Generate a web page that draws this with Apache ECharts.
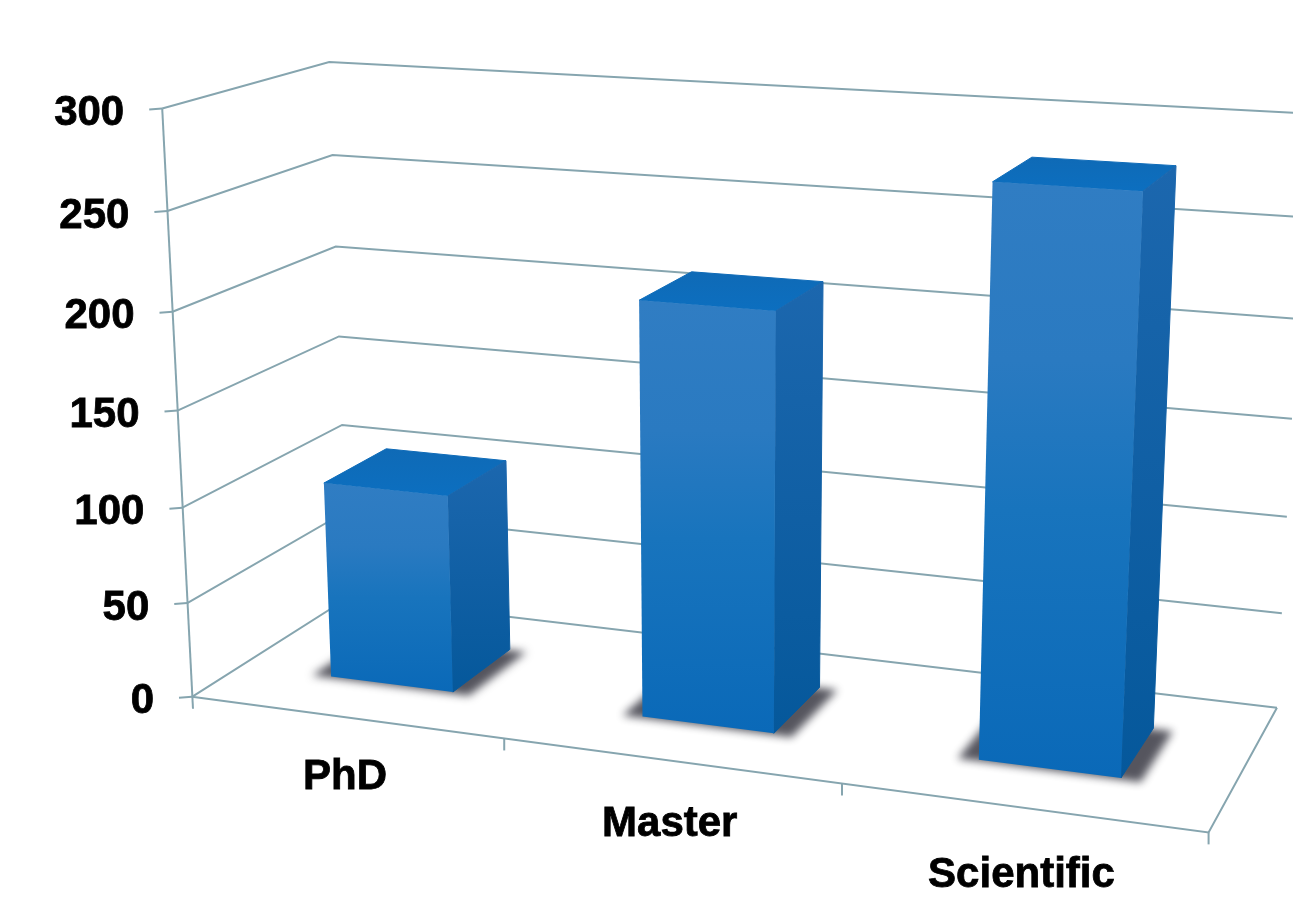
<!DOCTYPE html>
<html><head><meta charset="utf-8">
<style>html,body{margin:0;background:#fff}#c{width:1293px;height:907px}</style>
<script src="https://cdn.jsdelivr.net/npm/echarts@6/dist/echarts.min.js"></script></head>
<body><div id="c"></div>
<script>
const categories = ['PhD', 'Master', 'Scientific'];
const values = [104, 212, 280];
const yTicks = [0, 50, 100, 150, 200, 250, 300];

// Camera calibration: [along, height, depth] in unit room coordinates -> page position
const cameraFit = [
  [0,0,0,192,697],[0,1/6,0,188,602],[0,1/3,0,183,507],[0,.5,0,178,410],[0,2/3,0,172,311],[0,5/6,0,167,211],[0,1,0,162,109],
  [0,1/3,1,342,425],[0,.5,1,338,337],[0,2/3,1,336,247],[0,5/6,1,332,155],[0,1,1,330,62],
  [1,0,1,1277,707],[1,1/6,1,1282,613],[1,1/3,1,1287,516],[1,.5,1,1292,419],[1,1,1,1308,114],
  [1,0,0,1208,832],[1/3,0,0,504,740],[2/3,0,0,842,785]
];

// Least-squares linear solve for the 11 projective camera terms
function solve(A, b) {
  const n = b.length;
  for (let i = 0; i < n; i++) {
    let m = i;
    for (let r = i + 1; r < n; r++) if (Math.abs(A[r][i]) > Math.abs(A[m][i])) m = r;
    [A[i], A[m]] = [A[m], A[i]];
    [b[i], b[m]] = [b[m], b[i]];
    for (let r = i + 1; r < n; r++) {
      const f = A[r][i] / A[i][i];
      for (let c = i; c < n; c++) A[r][c] -= f * A[i][c];
      b[r] -= f * b[i];
    }
  }
  const x = Array(n).fill(0);
  for (let i = n - 1; i >= 0; i--) {
    let s = b[i];
    for (let c = i + 1; c < n; c++) s -= A[i][c] * x[c];
    x[i] = s / A[i][i];
  }
  return x;
}
function fitCamera(pts) {
  const N = Array.from({length: 11}, () => Array(11).fill(0)), R = Array(11).fill(0);
  const add = (row, t) => {
    for (let i = 0; i < 11; i++) {
      R[i] += row[i] * t;
      for (let j = 0; j < 11; j++) N[i][j] += row[i] * row[j];
    }
  };
  for (const [a, h, d, px, py] of pts) {
    const u = px / 1000, v = py / 1000;
    add([a, h, d, 1, 0, 0, 0, 0, -u * a, -u * h, -u * d], u);
    add([0, 0, 0, 0, a, h, d, 1, -v * a, -v * h, -v * d], v);
  }
  return solve(N, R);
}
const P = fitCamera(cameraFit);
function project(a, h, d) {
  const w = P[8] * a + P[9] * h + P[10] * d + 1;
  return [1000 * (P[0] * a + P[1] * h + P[2] * d + P[3]) / w,
          1000 * (P[4] * a + P[5] * h + P[6] * d + P[7]) / w];
}

// Axis scales give unit room coordinates; the camera then places them on the page
function toRoom(params, api, cat, val) {
  const g = params.coordSys, c = api.coord([cat, val]);
  return [(c[0] - g.x) / g.width, (g.y + g.height - c[1]) / g.height];
}

const LINE = '#86a5af', LINE_W = 2;
const seg = (pts) => ({type: 'polyline', shape: {points: pts}, style: {stroke: LINE, lineWidth: LINE_W, fill: null}});
const FONT = 'bold 42px "Liberation Sans", Arial, sans-serif';
const label = (text, x, y, align) => ({type: 'text', style: {text, x, y, font: FONT, fill: '#000',
  stroke: '#000', lineWidth: 0.8, align, verticalAlign: 'middle'}});

// Wall gridlines, value ticks and labels, one item per axis tick
function renderTick(params, api) {
  const [, h] = toRoom(params, api, 0, api.value(1));
  const front = project(0, h, 0), back = project(0, h, 1), right = project(1, h, 1);
  const kids = [
    seg([front, back, right]),
    seg([[front[0] - 13, front[1] + 1], front]),
    label(String(api.value(1)), front[0] - 38, front[1] + 5, 'right')
  ];
  if (api.value(1) === 0) {
    kids.push(seg([project(0, 0, 0), project(1, 0, 0), project(1, 0, 1)]));
    kids.push(seg([project(0, 1, 0), [project(0, 0, 0)[0] + 1, project(0, 0, 0)[1] + 12]]));
  }
  return {type: 'group', children: kids};
}

// Floor tick at the right of each band, and the category label in front of it
function renderCategory(params, api) {
  const i = api.value(0);
  const [a] = toRoom(params, api, i, 0);
  const half = api.size([1, 0])[0] / 2 / params.coordSys.width;
  const t = project(a + half, 0, 0), c = project(a, 0, 0);
  return {type: 'group', children: [
    seg([t, [t[0], t[1] + 12]]),
    label(categories[i], c[0], c[1] + 58 + 12 * a, 'center')
  ]};
}

// One perspective box per category: floor shadow, then top, side and front faces
const DEPTH0 = 0.30, DEPTH1 = 0.71, WIDTH_OF_BAND = 0.4;
const SHADOW_SHIFT = 3000;
function renderBar(params, api) {
  const i = api.value(0);
  const [a, h] = toRoom(params, api, i, api.value(1));
  const hw = api.size([1, 0])[0] / params.coordSys.width * WIDTH_OF_BAND / 2;
  const a0 = a - hw, a1 = a + hw;
  const v = project;
  const vert = (top, bottom) => ({type: 'linear', x: 0, y: 0, x2: 0, y2: 1,
    colorStops: [{offset: 0, color: top}, {offset: 1, color: bottom}]});
  // Back faces carry a thin edge of their own colour so no seam shows at the joins
  const poly = (pts, top, bottom) => ({type: 'polygon', shape: {points: pts},
    style: {fill: vert(top, bottom), stroke: vert(top, bottom), lineWidth: 1}});
  const sa0 = a0 - 0.019, sa1 = a1 + 0.019, sd0 = DEPTH0 - 0.012, sd1 = DEPTH1 - 0.004;
  // The casting shape sits off the page so only its soft shadow lands on the floor
  const caster = [v(sa0, 0, sd0), v(sa1, 0, sd0), v(sa1, 0, sd1), v(sa0, 0, sd1)]
    .map(p => [p[0] - SHADOW_SHIFT, p[1]]);
  return {type: 'group', children: [
    {type: 'polygon', shape: {points: caster},
      style: {fill: '#000', shadowBlur: 9, shadowColor: 'rgba(70,70,80,0.92)', shadowOffsetX: SHADOW_SHIFT}},
    poly([v(a0, h, DEPTH0), v(a1, h, DEPTH0), v(a1, h, DEPTH1), v(a0, h, DEPTH1)], '#0f6ab6', '#0c6fc0'),
    poly([v(a1, h, DEPTH0), v(a1, h, DEPTH1), v(a1, 0, DEPTH1), v(a1, 0, DEPTH0)], '#1c67ae', '#05589b'),
    {type: 'polygon', shape: {points: [v(a0, h, DEPTH0), v(a1, h, DEPTH0), v(a1, 0, DEPTH0), v(a0, 0, DEPTH0)]},
      style: {fill: {type: 'linear', x: 0, y: 0, x2: 0, y2: 1, colorStops: [
        {offset: 0, color: '#307dc3'}, {offset: 0.3, color: '#2a7ac1'},
        {offset: 0.55, color: '#1874bd'}, {offset: 1, color: '#0a69b8'}]}}}
  ]};
}

const chart = echarts.init(document.getElementById('c'));
chart.setOption({
  animation: false,
  backgroundColor: '#fff',
  grid: {left: 0, top: 0, width: 1000, height: 800, show: false},
  xAxis: {type: 'category', data: categories, show: false},
  yAxis: {type: 'value', min: 0, max: 300, interval: 50, show: false},
  series: [
    {type: 'custom', silent: true, clip: false, z: 1, renderItem: renderTick,
      data: yTicks.map(v => [0, v]), encode: {x: 0, y: 1}},
    {type: 'custom', silent: true, clip: false, z: 2, renderItem: renderCategory,
      data: categories.map((c, i) => [i, 0]), encode: {x: 0, y: 1}},
    {type: 'custom', silent: true, clip: false, z: 3, renderItem: renderBar,
      data: values.map((v, i) => [i, v]), encode: {x: 0, y: 1}}
  ]
});
</script></body></html>
